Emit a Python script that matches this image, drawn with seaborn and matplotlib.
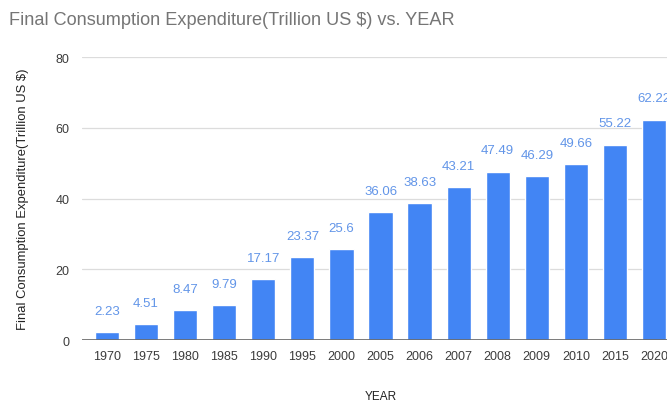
import matplotlib
matplotlib.use('Agg')
import matplotlib.pyplot as plt
import seaborn as sns
import pandas as pd

# ----
# Data
# ----
years = ['1970', '1975', '1980', '1985', '1990', '1995', '2000', '2005',
         '2006', '2007', '2008', '2009', '2010', '2015', '2020']
expenditure = [2.23, 4.51, 8.47, 9.79, 17.17, 23.37, 25.6, 36.06,
               38.63, 43.21, 47.49, 46.29, 49.66, 55.22, 62.22]
yticks = [0, 20, 40, 60, 80]

df = pd.DataFrame({'YEAR': years, 'value': expenditure})

# ----
# Plot
# ----
sns.set_style('white')
plt.rcParams['font.family'] = ['Liberation Sans', 'DejaVu Sans']

fig = plt.figure(figsize=(6.67, 4.02), dpi=100)
ax = fig.add_axes([0.123, 0.1517, 0.895, 0.704])

bar_col = '#4285f4'
sns.barplot(data=df, x='YEAR', y='value', color=bar_col, width=0.62,
            saturation=1, ax=ax, zorder=3)

# value labels above the bars (last one runs off the edge like the original)
for i, v in enumerate(expenditure):
    ax.annotate(f'{v:g}', (i, v), xytext=(0, 15.5), textcoords='offset points',
                ha='center', va='center', fontsize=9.5, color='#6295e8',
                annotation_clip=False)

ax.set_xlim(-0.64, 14.64)
ax.set_ylim(0, 80)
ax.set_yticks(yticks)
ax.yaxis.grid(True, color='#dcdcdc', linewidth=0.9, zorder=0)
ax.axhline(0, color='#666666', linewidth=1.2, zorder=4)
sns.despine(ax=ax, left=True, bottom=True, top=True, right=True)
ax.tick_params(axis='both', length=0, labelsize=9, colors='#3c3c3c')
ax.tick_params(axis='y', pad=9)
ax.tick_params(axis='x', pad=7)

ax.set_xlabel('YEAR', fontsize=8.5, color='#222222', labelpad=20)
ax.set_ylabel('Final Consumption Expenditure(Trillion US $)', fontsize=9.4,
              color='#222222', labelpad=19)

fig.text(0.014, 0.95, 'Final Consumption Expenditure(Trillion US $) vs. YEAR',
         fontsize=13.1, color='#757575', ha='left', va='center')

fig.savefig('out.png', dpi=100)
